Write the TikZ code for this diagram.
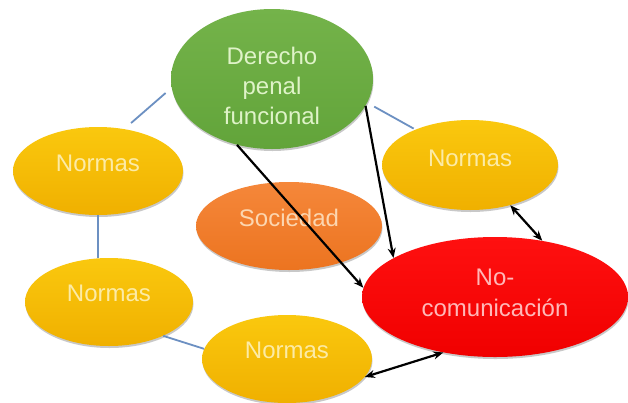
\documentclass[tikz,border=0pt]{standalone}
\usepackage{fontspec}
\setmainfont{Liberation Sans}
\usetikzlibrary{arrows.meta,shapes.geometric,shadows}
\definecolor{Y1}{HTML}{FAC80E}
\definecolor{Y2}{HTML}{F0B000}
\definecolor{G1}{HTML}{74B34A}
\definecolor{G2}{HTML}{62A43A}
\definecolor{O1}{HTML}{F5873A}
\definecolor{O2}{HTML}{EC7420}
\definecolor{R1}{HTML}{FF1010}
\definecolor{R2}{HTML}{F00000}
\definecolor{TY}{HTML}{FCEBA6}
\definecolor{TG}{HTML}{DFF3C8}
\definecolor{TO}{HTML}{FCD6B0}
\definecolor{TR}{HTML}{FFB8B8}
\definecolor{BL}{HTML}{6C90C2}
\begin{document}
\begin{tikzpicture}[x=1pt,y=-1pt,
  ell/.style={ellipse, inner sep=0pt, draw=none,
    drop shadow={shadow xshift=0.5pt, shadow yshift=-2pt, opacity=0.3, fill=black!70}},
  yel/.style={ell, top color=Y1, bottom color=Y2},
  lab/.style={font=\fontsize{24}{30}\selectfont, align=center, inner sep=0pt},
  bline/.style={line width=1.8pt, draw=BL},
  arr/.style={-{Stealth[length=10pt,width=8pt]}, line width=2.2pt, draw=black},
  darr/.style={{Stealth[length=10pt,width=8pt]}-{Stealth[length=10pt,width=8pt]}, line width=2.2pt, draw=black}
]
\useasboundingbox (0,0) rectangle (628,402);
\clip (0,0) rectangle (628,402);
\fill[white] (0,0) rectangle (628,402);

% ellipses
\node[ell, top color=G1, bottom color=G2, minimum width=202pt, minimum height=140pt,
  label={[lab, text=TG, yshift=-7pt]center:{Derecho\\penal\\funcional}}] (G) at (272,79) {};
\node[yel, minimum width=170pt, minimum height=88pt,
  label={[lab, text=TY, yshift=8pt]center:Normas}] (NL) at (98,171) {};
\node[yel, minimum width=176pt, minimum height=90pt,
  label={[lab, text=TY, yshift=7pt]center:Normas}] (NR) at (470,165) {};
\node[ell, top color=O1, bottom color=O2, minimum width=186pt, minimum height=88pt,
  label={[lab, text=TO, yshift=8pt]center:Sociedad}] (S) at (289,226) {};
\node[yel, minimum width=168pt, minimum height=88pt,
  label={[lab, text=TY, yshift=9pt]center:Normas}] (NLL) at (109,302) {};
\node[yel, minimum width=170pt, minimum height=88pt,
  label={[lab, text=TY, yshift=9pt]center:Normas}] (NB) at (287,359) {};
\node[ell, top color=R1, bottom color=R2, minimum width=266pt, minimum height=120pt,
  label={[lab, text=TR, yshift=4.5pt, font=\fontsize{24}{31}\selectfont]center:{No-\\comunicación}}] (R) at (495,297) {};

% blue connectors
\draw[bline, shorten <=9pt, shorten >=8pt] (NL.58) -- (G.185);
\draw[bline, shorten <=8pt, shorten >=2pt] (G.-14) -- (NR.147);
\draw[bline] (NL.south) -- (NL.south |- NLL.north);
\draw[bline] (NLL.-32) -- (NB.173);

% black arrows
\draw[arr] (G.-118) -- (R.176);
\draw[arr] (G.-16) -- (R.159);
\draw[darr] (NR.-45) -- (R.50);
\draw[darr] (NB.-13) -- (R.-133);
\end{tikzpicture}
\end{document}
